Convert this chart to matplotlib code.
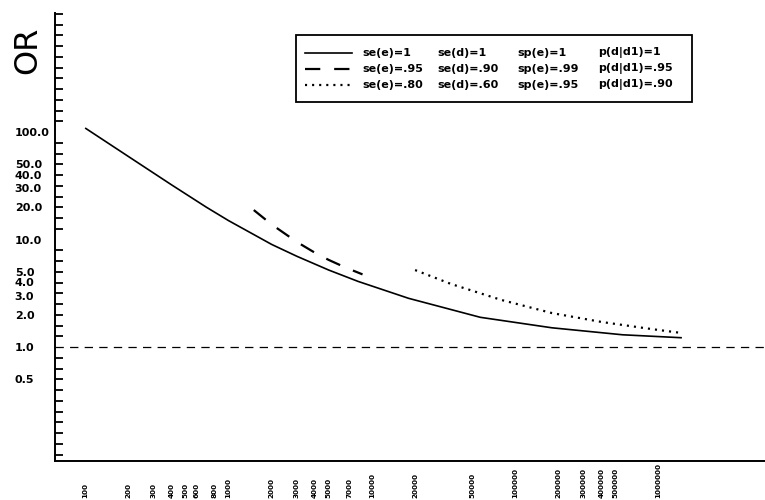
import matplotlib
matplotlib.use('Agg')
import matplotlib.pyplot as plt
import numpy as np
from matplotlib.lines import Line2D
from matplotlib.patches import Rectangle
from matplotlib.ticker import FixedLocator, NullFormatter

plt.rcParams['font.family'] = ['DejaVu Sans']
plt.rcParams['lines.scale_dashes'] = False

# ---- data ----
n_solid = [100, 200, 400, 700, 1000, 2000, 3000, 5000, 8000, 18000, 57000, 180000, 560000, 1450000]
or_solid = [109, 59.3, 32.3, 20.0, 15.0, 9.0, 6.98, 5.2, 4.08, 2.84, 1.89, 1.51, 1.30, 1.22]

n_dash = [1500, 2000, 3000, 4000, 5000, 6500, 8600]
or_dash = [18.8, 13.8, 9.48, 7.54, 6.46, 5.51, 4.74]

n_dot = [20000, 35600, 80000, 180000, 400000, 890000, 1450000]
or_dot = [5.2, 3.86, 2.74, 2.07, 1.71, 1.47, 1.35]

reference_or = 1.0

x_ticks = [100, 200, 300, 400, 500, 600, 800, 1000, 2000, 3000, 4000, 5000, 7000,
           10000, 20000, 50000, 100000, 200000, 300000, 400000, 500000, 1000000]
x_ticklabels = [str(v) for v in x_ticks]

y_ticks = [100, 50, 40, 30, 20, 10, 5, 4, 3, 2, 1, 0.5]
y_ticklabels = ['100.0', '50.0', '40.0', '30.0', '20.0', '10.0', '5.0', '4.0', '3.0', '2.0', '1.0', '0.5']

legend_col1 = ['se(e)=1', 'se(e)=.95', 'se(e)=.80']
legend_col2 = ['se(d)=1', 'se(d)=.90', 'se(d)=.60']
legend_col3 = ['sp(e)=1', 'sp(e)=.99', 'sp(e)=.95']
legend_col4 = ['p(d|d1)=1', 'p(d|d1)=.95', 'p(d|d1)=.90']

# ---- figure ----
W, H = 765, 500
fig = plt.figure(figsize=(W / 100, H / 100), dpi=100)
ax = fig.add_axes([55 / W, 39 / H, 712 / W, 448 / H])
ax.set_xscale('log')
ax.set_yscale('log')
ax.set_xlim(10 ** 1.79, 10 ** 6.755)
ax.set_ylim(10 ** -1.06, 10 ** 3.107)

ax.plot(n_solid, or_solid, color='black', lw=1.2, solid_capstyle='butt')
ax.plot(n_dash, or_dash, color='black', lw=1.6, dashes=(11, 10))
ax.plot(n_dot, or_dot, color='black', lw=1.6, dashes=(1.5, 3.6))
ax.axhline(reference_or, color='black', lw=0.9, dashes=(6, 4.5))

for s in ['top', 'right']:
    ax.spines[s].set_visible(False)
ax.spines['left'].set_linewidth(1.4)
ax.spines['bottom'].set_linewidth(1.4)

# y axis: labels at listed values, tick marks every 0.1 decade
ax.yaxis.set_major_locator(FixedLocator(y_ticks))
ax.set_yticklabels(y_ticklabels)
ax.yaxis.set_minor_locator(FixedLocator(10 ** (np.arange(-10, 32) / 10.0)))
ax.yaxis.set_minor_formatter(NullFormatter())
ax.tick_params(axis='y', which='major', length=0, pad=29, labelsize=8)
ax.tick_params(axis='y', which='minor', direction='in', length=6, width=1.3)
for lab in ax.get_yticklabels():
    lab.set_fontweight('bold')
    lab.set_ha('left')

# x axis: rotated labels anchored at their bottom near the lower edge
ax.xaxis.set_major_locator(FixedLocator(x_ticks))
ax.set_xticklabels(x_ticklabels)
ax.xaxis.set_minor_locator(FixedLocator([]))
ax.tick_params(axis='x', which='major', length=0, pad=26.5, labelsize=5.2)
for lab in ax.get_xticklabels():
    lab.set_rotation(90)
    lab.set_va('bottom')
    lab.set_ha('center')
    lab.set_fontweight('bold')

# y label "OR"
fig.text(28 / W, 1 - 50 / H, 'OR', rotation=90, fontsize=23, ha='center', va='center')

# ---- legend box ----
def px(x, y):
    return x / W, 1 - y / H

bx0, by0 = px(296, 102)
bx1, by1 = px(692, 35)
fig.add_artist(Rectangle((bx0, by0), bx1 - bx0, by1 - by0, transform=fig.transFigure,
                         fill=False, edgecolor='black', lw=1.3))
row_y = [53, 69, 85]
styles = [dict(), dict(dashes=(11, 10)), dict(dashes=(1.5, 3.6))]
lws = [1.2, 1.6, 1.6]
for i, yy in enumerate(row_y):
    xa, ya = px(305, yy)
    xb, _ = px(352, yy)
    fig.add_artist(Line2D([xa, xb], [ya, ya], transform=fig.transFigure, color='black',
                          lw=lws[i], **styles[i]))
    for col, xx in zip([legend_col1, legend_col2, legend_col3, legend_col4], [362, 437, 517, 598]):
        tx, ty = px(xx, yy)
        fig.text(tx, ty, col[i], fontsize=8, fontweight='bold', ha='left', va='center')

fig.savefig('out.png', dpi=100)
